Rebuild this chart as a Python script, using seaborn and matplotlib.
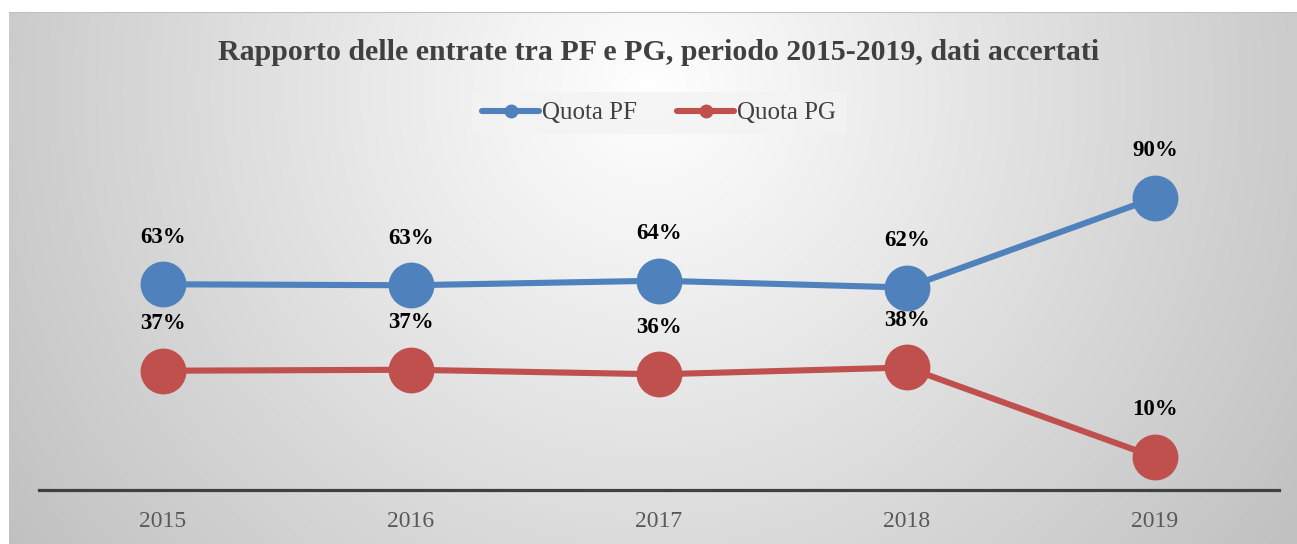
import numpy as np
import pandas as pd
import matplotlib
matplotlib.use('Agg')
import matplotlib.pyplot as plt
from matplotlib.lines import Line2D
import seaborn as sns

# dati
anni = ['2015', '2016', '2017', '2018', '2019']
quota_pf = [63.3, 63.0, 64.4, 62.3, 89.9]
quota_pg = [36.7, 37.0, 35.6, 37.7, 10.1]
serie = ['Quota PF', 'Quota PG']
colori = ['#4F81BD', '#C0504D']

df = pd.DataFrame({
    'anno': anni * 2,
    'quota': quota_pf + quota_pg,
    'serie': [serie[0]] * len(anni) + [serie[1]] * len(anni),
})

sns.set_theme(style='white')
plt.rcParams['font.family'] = ['Liberation Serif', 'DejaVu Serif']

W, H = 1297, 544
fig = plt.figure(figsize=(W / 100, H / 100), dpi=100)
fig.patch.set_facecolor('white')

# sfondo con gradiente radiale
bg = fig.add_axes([9 / W, 0, (W - 9) / W, (H - 12) / H], zorder=-5)
gh, gw = 532, 1288
yy, xx = np.mgrid[0:gh, 0:gw]
d = np.sqrt(((xx - 640) / 800.0) ** 2 + ((yy - 80) / 800.0) ** 2)
val = 1 - 0.25 * np.clip(d, 0, 1)
bg.imshow(np.dstack([val, val, val]), aspect='auto', extent=[0, 1, 0, 1])
bg.axhline(1, color='#c0c0c0', lw=1.5)
bg.set_axis_off()

ax = fig.add_axes([39 / W, 54 / H, 1240 / W, (490 - 165) / H])
ax.set_facecolor('none')

sns.lineplot(data=df, x='anno', y='quota', hue='serie', palette=colori,
             marker='o', markersize=33, markeredgewidth=0, linewidth=4.4,
             legend=False, ax=ax)

for (_, r) in df.iterrows():
    ax.annotate(f"{r['quota']:.0f}%", (anni.index(r['anno']), r['quota']),
                xytext=(0, 34), textcoords='offset points', ha='center', va='center',
                fontsize=16.5, fontweight='bold', color='black')

ax.set_xlim(-0.5, 4.5)
ax.set_ylim(0, 100)
ax.set_xlabel('')
ax.set_ylabel('')
ax.set_yticks([])
for s in ['top', 'left', 'right']:
    ax.spines[s].set_visible(False)
ax.spines['bottom'].set_color('#404040')
ax.spines['bottom'].set_linewidth(2.3)
ax.tick_params(axis='x', length=0, pad=15, labelsize=17, labelcolor='#595959')

fig.text(0.508, 1 - 52 / H, 'Rapporto delle entrate tra PF e PG, periodo 2015-2019, dati accertati',
         ha='center', va='center', fontsize=21.5, fontweight='bold', color='#404040')

handles = [Line2D([0], [0], color=c, lw=4.4, marker='o', markersize=9) for c in colori]
leg = fig.legend(handles, serie, loc='center', bbox_to_anchor=(0.508, 1 - 113 / H), ncol=2,
                 frameon=True, fontsize=18, handlelength=2.3, handletextpad=0.1,
                 columnspacing=1.6, borderpad=0.4, fancybox=False)
leg.get_frame().set_facecolor('#f3f3f3')
leg.get_frame().set_edgecolor('none')
for t in leg.get_texts():
    t.set_color('#404040')

fig.savefig('out.png', dpi=100)
